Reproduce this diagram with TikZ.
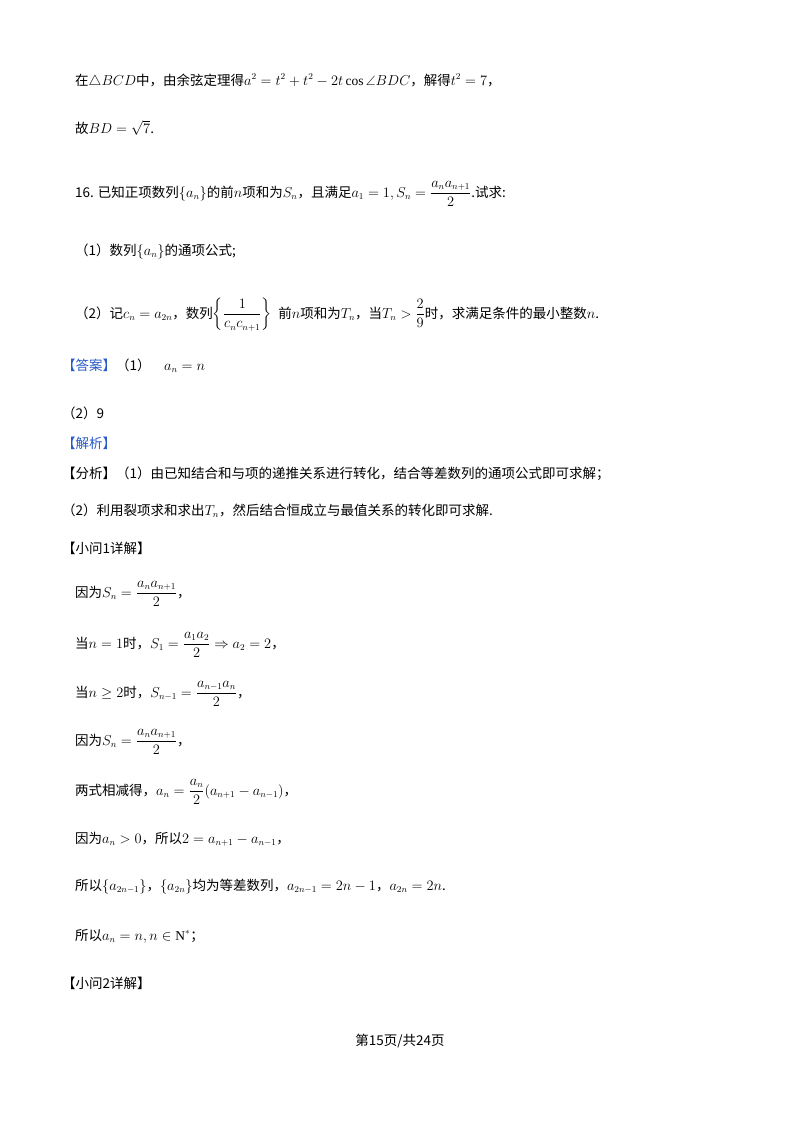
\documentclass[tikz,border=0pt]{standalone}
\usepackage{amsmath,amssymb}
\usepackage{fontspec}
\setmainfont{Liberation Serif}
\newfontfamily\cjk{Noto Sans CJK SC}
\definecolor{ansblue}{RGB}{40,90,200}
\begin{document}
\begin{tikzpicture}[x=1pt,y=-1pt,
  tx/.style={anchor=base west,inner sep=0pt,font=\cjk\fontsize{13.5}{16}\selectfont}]
\useasboundingbox (0,0) rectangle (800,1132);
\fill[white] (0,0) rectangle (800,1132);
\node[tx] (l1) at (75,85) {在$\triangle BCD$中，由余弦定理得$a^2=t^2+t^2-2t\cos\angle BDC$，解得$t^2=7$，};
\node[tx] (l2) at (75,133) {故$BD=\sqrt{7}$.};
\node[tx] (l3) at (75,197) {16. 已知正项数列$\{a_n\}$的前$n$项和为$S_n$，且满足$a_1=1,S_n=\dfrac{a_na_{n+1}}{2}$.试求:};
\node[tx] (l4) at (75,255) {（1）数列$\{a_n\}$的通项公式;};
\node[tx] (l5) at (75,318) {（2）记$c_n=a_{2n}$，数列$\left\{\dfrac{1}{c_nc_{n+1}}\right\}$\; 前$n$项和为$T_n$，当$T_n>\dfrac{2}{9}$时，求满足条件的最小整数$n$.};
\node[tx] (l6) at (62,370) {\textcolor{ansblue}{【答案】}（1）\quad$a_n=n$};
\node[tx] (l7) at (62,418) {（2）9};
\node[tx,text=ansblue] (l8) at (62,448) {【解析】};
\node[tx] (l9) at (62,478) {【分析】（1）由已知结合和与项的递推关系进行转化，结合等差数列的通项公式即可求解；};
\node[tx] (l10) at (62,515) {（2）利用裂项求和求出$T_n$，然后结合恒成立与最值关系的转化即可求解.};
\node[tx] (l11) at (62,553) {【小问1详解】};
\node[tx] (l12) at (75,597) {因为$S_n=\dfrac{a_na_{n+1}}{2}$，};
\node[tx] (l13) at (75,648) {当$n=1$时，$S_1=\dfrac{a_1a_2}{2}\Rightarrow a_2=2$，};
\node[tx] (l14) at (75,697) {当$n\geq 2$时，$S_{n-1}=\dfrac{a_{n-1}a_n}{2}$，};
\node[tx] (l15) at (75,745) {因为$S_n=\dfrac{a_na_{n+1}}{2}$，};
\node[tx] (l16) at (75,795) {两式相减得，$a_n=\dfrac{a_n}{2}(a_{n+1}-a_{n-1})$，};
\node[tx] (l17) at (75,843) {因为$a_n>0$，所以$2=a_{n+1}-a_{n-1}$，};
\node[tx] (l18) at (75,890) {所以$\{a_{2n-1}\}$，$\{a_{2n}\}$均为等差数列，$a_{2n-1}=2n-1$，$a_{2n}=2n$.};
\node[tx] (l19) at (75,940) {所以$a_n=n,n\in\mathrm{N}^*$；};
\node[tx] (l20) at (62,988) {【小问2详解】};
\node[tx,anchor=base] (pg) at (400,1045) {第15页/共24页};
\end{tikzpicture}
\end{document}
